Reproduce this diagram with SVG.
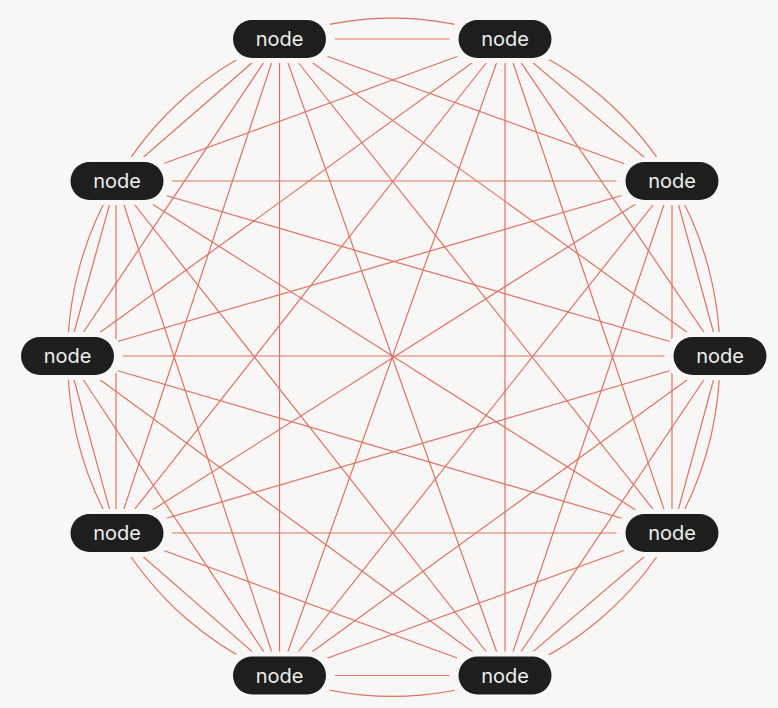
<svg xmlns="http://www.w3.org/2000/svg" width="778" height="708" viewBox="0 0 778 708">
<style>
.bg{fill:#f8f7f5}
.e{stroke:#de7264;stroke-width:1.2;fill:none}
.halo{fill:#f8f7f5}
.pill{fill:#1e1e1e}
.lbl{font-family:Inter,"Open Sans","Liberation Sans",sans-serif;font-size:20px;fill:#eeeeee;text-anchor:middle}
</style>
<rect class="bg" x="0" y="0" width="778" height="708"/>
<g id="connectors">
<line class="e" x1="279.5" y1="39" x2="505" y2="39"/>
<line class="e" x1="279.5" y1="39" x2="672" y2="181"/>
<line class="e" x1="279.5" y1="39" x2="720" y2="356"/>
<line class="e" x1="279.5" y1="39" x2="672" y2="533"/>
<line class="e" x1="279.5" y1="39" x2="505" y2="675.5"/>
<line class="e" x1="279.5" y1="39" x2="279.5" y2="675.5"/>
<line class="e" x1="279.5" y1="39" x2="116" y2="533"/>
<line class="e" x1="279.5" y1="39" x2="67.5" y2="356"/>
<line class="e" x1="279.5" y1="39" x2="116" y2="181"/>
<line class="e" x1="505" y1="39" x2="672" y2="181"/>
<line class="e" x1="505" y1="39" x2="720" y2="356"/>
<line class="e" x1="505" y1="39" x2="672" y2="533"/>
<line class="e" x1="505" y1="39" x2="505" y2="675.5"/>
<line class="e" x1="505" y1="39" x2="279.5" y2="675.5"/>
<line class="e" x1="505" y1="39" x2="116" y2="533"/>
<line class="e" x1="505" y1="39" x2="67.5" y2="356"/>
<line class="e" x1="505" y1="39" x2="116" y2="181"/>
<line class="e" x1="672" y1="181" x2="720" y2="356"/>
<line class="e" x1="672" y1="181" x2="672" y2="533"/>
<line class="e" x1="672" y1="181" x2="505" y2="675.5"/>
<line class="e" x1="672" y1="181" x2="279.5" y2="675.5"/>
<line class="e" x1="672" y1="181" x2="116" y2="533"/>
<line class="e" x1="672" y1="181" x2="67.5" y2="356"/>
<line class="e" x1="672" y1="181" x2="116" y2="181"/>
<line class="e" x1="720" y1="356" x2="672" y2="533"/>
<line class="e" x1="720" y1="356" x2="505" y2="675.5"/>
<line class="e" x1="720" y1="356" x2="279.5" y2="675.5"/>
<line class="e" x1="720" y1="356" x2="116" y2="533"/>
<line class="e" x1="720" y1="356" x2="67.5" y2="356"/>
<line class="e" x1="720" y1="356" x2="116" y2="181"/>
<line class="e" x1="672" y1="533" x2="505" y2="675.5"/>
<line class="e" x1="672" y1="533" x2="279.5" y2="675.5"/>
<line class="e" x1="672" y1="533" x2="116" y2="533"/>
<line class="e" x1="672" y1="533" x2="67.5" y2="356"/>
<line class="e" x1="672" y1="533" x2="116" y2="181"/>
<line class="e" x1="505" y1="675.5" x2="279.5" y2="675.5"/>
<line class="e" x1="505" y1="675.5" x2="116" y2="533"/>
<line class="e" x1="505" y1="675.5" x2="67.5" y2="356"/>
<line class="e" x1="505" y1="675.5" x2="116" y2="181"/>
<line class="e" x1="279.5" y1="675.5" x2="116" y2="533"/>
<line class="e" x1="279.5" y1="675.5" x2="67.5" y2="356"/>
<line class="e" x1="279.5" y1="675.5" x2="116" y2="181"/>
<line class="e" x1="116" y1="533" x2="67.5" y2="356"/>
<line class="e" x1="116" y1="533" x2="116" y2="181"/>
<line class="e" x1="67.5" y1="356" x2="116" y2="181"/>
<path class="e" d="M279.5 39 A326 339 0 0 1 505 39"/>
<path class="e" d="M505 39 A326 339 0 0 1 672 181"/>
<path class="e" d="M672 181 A326 339 0 0 1 720 356"/>
<path class="e" d="M720 356 A326 339 0 0 1 672 533"/>
<path class="e" d="M672 533 A326 339 0 0 1 505 675.5"/>
<path class="e" d="M505 675.5 A326 339 0 0 1 279.5 675.5"/>
<path class="e" d="M279.5 675.5 A326 339 0 0 1 116 533"/>
<path class="e" d="M116 533 A326 339 0 0 1 67.5 356"/>
<path class="e" d="M67.5 356 A326 339 0 0 1 116 181"/>
<path class="e" d="M116 181 A326 339 0 0 1 279.5 39"/>
</g>
<g id="n1"><rect class="halo" x="224" y="15" width="111" height="48" rx="24"/><rect class="pill" x="233" y="20" width="93" height="38" rx="19"/><text class="lbl" x="279.5" y="46">node</text></g>
<g id="n2"><rect class="halo" x="449.5" y="15" width="111" height="48" rx="24"/><rect class="pill" x="458.5" y="20" width="93" height="38" rx="19"/><text class="lbl" x="505" y="46">node</text></g>
<g id="n3"><rect class="halo" x="616.5" y="157" width="111" height="48" rx="24"/><rect class="pill" x="625.5" y="162" width="93" height="38" rx="19"/><text class="lbl" x="672" y="188">node</text></g>
<g id="n4"><rect class="halo" x="664.5" y="332" width="111" height="48" rx="24"/><rect class="pill" x="673.5" y="337" width="93" height="38" rx="19"/><text class="lbl" x="720" y="363">node</text></g>
<g id="n5"><rect class="halo" x="616.5" y="509" width="111" height="48" rx="24"/><rect class="pill" x="625.5" y="514" width="93" height="38" rx="19"/><text class="lbl" x="672" y="540">node</text></g>
<g id="n6"><rect class="halo" x="449.5" y="651.5" width="111" height="48" rx="24"/><rect class="pill" x="458.5" y="656.5" width="93" height="38" rx="19"/><text class="lbl" x="505" y="682.5">node</text></g>
<g id="n7"><rect class="halo" x="224" y="651.5" width="111" height="48" rx="24"/><rect class="pill" x="233" y="656.5" width="93" height="38" rx="19"/><text class="lbl" x="279.5" y="682.5">node</text></g>
<g id="n8"><rect class="halo" x="61" y="509" width="111" height="48" rx="24"/><rect class="pill" x="70.5" y="514" width="93" height="38" rx="19"/><text class="lbl" x="117" y="540">node</text></g>
<g id="n9"><rect class="halo" x="12" y="332" width="111" height="48" rx="24"/><rect class="pill" x="21" y="337" width="93" height="38" rx="19"/><text class="lbl" x="67.5" y="363">node</text></g>
<g id="n10"><rect class="halo" x="61" y="157" width="111" height="48" rx="24"/><rect class="pill" x="70.5" y="162" width="93" height="38" rx="19"/><text class="lbl" x="117" y="188">node</text></g>
</svg>
